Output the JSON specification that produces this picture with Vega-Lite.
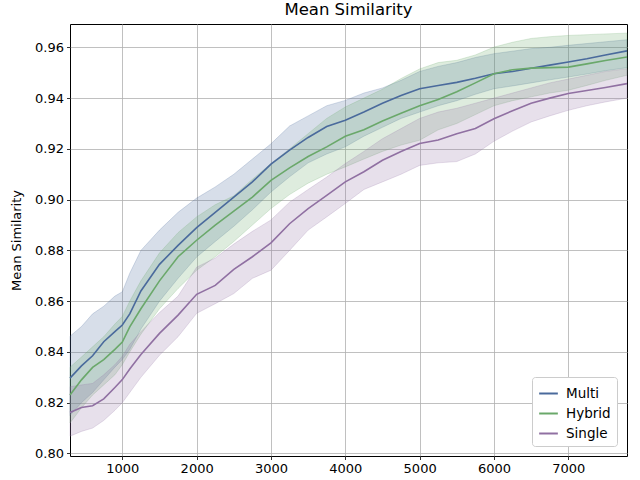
{
  "$schema": "https://vega.github.io/schema/vega-lite/v6.json",
  "width": 557,
  "height": 432,
  "autosize": {"type": "none"},
  "padding": {"left": 70, "top": 24, "right": 13, "bottom": 24},
  "background": "white",
  "title": {"text": "Mean Similarity", "fontSize": 16.5, "font": "DejaVu Sans", "fontWeight": "normal", "color": "black", "offset": 6, "anchor": "middle"},
  "config": {
    "view": {"stroke": "black", "strokeWidth": 1},
    "font": "DejaVu Sans",
    "axis": {"domain": false, "grid": true, "gridColor": "#b0b0b0", "gridWidth": 0.8, "tickColor": "black", "tickSize": 3.5, "tickWidth": 0.8, "labelFont": "DejaVu Sans", "labelFontSize": 13, "labelColor": "black", "labelPadding": 3, "titleFont": "DejaVu Sans", "titleFontSize": 13, "titleFontWeight": "normal", "titleColor": "black"},
    "legend": {"labelFont": "DejaVu Sans", "labelFontSize": 13.5, "labelColor": "black"}
  },
  "data": {"values": [
    {"step":296,"model":"Multi","mean":0.8297,"lo":0.8150,"hi":0.8462},
    {"step":450,"model":"Multi","mean":0.8345,"lo":0.8200,"hi":0.8500},
    {"step":600,"model":"Multi","mean":0.8385,"lo":0.8240,"hi":0.8550},
    {"step":750,"model":"Multi","mean":0.8440,"lo":0.8290,"hi":0.8580},
    {"step":900,"model":"Multi","mean":0.8480,"lo":0.8340,"hi":0.8620},
    {"step":1000,"model":"Multi","mean":0.8506,"lo":0.8370,"hi":0.8637},
    {"step":1100,"model":"Multi","mean":0.8550,"lo":0.8410,"hi":0.8710},
    {"step":1250,"model":"Multi","mean":0.8640,"lo":0.8490,"hi":0.8800},
    {"step":1500,"model":"Multi","mean":0.8745,"lo":0.8600,"hi":0.8880},
    {"step":1750,"model":"Multi","mean":0.8820,"lo":0.8690,"hi":0.8950},
    {"step":2000,"model":"Multi","mean":0.8890,"lo":0.8774,"hi":0.9006},
    {"step":2250,"model":"Multi","mean":0.8950,"lo":0.8835,"hi":0.9050},
    {"step":2500,"model":"Multi","mean":0.9010,"lo":0.8895,"hi":0.9100},
    {"step":2750,"model":"Multi","mean":0.9070,"lo":0.8960,"hi":0.9160},
    {"step":3000,"model":"Multi","mean":0.9140,"lo":0.9030,"hi":0.9220},
    {"step":3250,"model":"Multi","mean":0.9195,"lo":0.9090,"hi":0.9290},
    {"step":3500,"model":"Multi","mean":0.9245,"lo":0.9145,"hi":0.9330},
    {"step":3750,"model":"Multi","mean":0.9288,"lo":0.9180,"hi":0.9370},
    {"step":4000,"model":"Multi","mean":0.9313,"lo":0.9208,"hi":0.9391},
    {"step":4250,"model":"Multi","mean":0.9345,"lo":0.9250,"hi":0.9420},
    {"step":4500,"model":"Multi","mean":0.9380,"lo":0.9285,"hi":0.9440},
    {"step":4750,"model":"Multi","mean":0.9410,"lo":0.9320,"hi":0.9470},
    {"step":5000,"model":"Multi","mean":0.9437,"lo":0.9345,"hi":0.9505},
    {"step":5250,"model":"Multi","mean":0.9450,"lo":0.9370,"hi":0.9525},
    {"step":5500,"model":"Multi","mean":0.9462,"lo":0.9390,"hi":0.9540},
    {"step":5750,"model":"Multi","mean":0.9478,"lo":0.9415,"hi":0.9560},
    {"step":6000,"model":"Multi","mean":0.9496,"lo":0.9437,"hi":0.9575},
    {"step":6250,"model":"Multi","mean":0.9505,"lo":0.9448,"hi":0.9585},
    {"step":6500,"model":"Multi","mean":0.9518,"lo":0.9460,"hi":0.9595},
    {"step":6750,"model":"Multi","mean":0.9530,"lo":0.9472,"hi":0.9600},
    {"step":7000,"model":"Multi","mean":0.9542,"lo":0.9483,"hi":0.9608},
    {"step":7250,"model":"Multi","mean":0.9555,"lo":0.9495,"hi":0.9615},
    {"step":7500,"model":"Multi","mean":0.9570,"lo":0.9508,"hi":0.9622},
    {"step":7790,"model":"Multi","mean":0.9586,"lo":0.9520,"hi":0.9630},
    {"step":296,"model":"Hybrid","mean":0.8230,"lo":0.8120,"hi":0.8340},
    {"step":450,"model":"Hybrid","mean":0.8290,"lo":0.8180,"hi":0.8380},
    {"step":600,"model":"Hybrid","mean":0.8339,"lo":0.8230,"hi":0.8420},
    {"step":750,"model":"Hybrid","mean":0.8370,"lo":0.8270,"hi":0.8460},
    {"step":900,"model":"Hybrid","mean":0.8410,"lo":0.8310,"hi":0.8510},
    {"step":1000,"model":"Hybrid","mean":0.8439,"lo":0.8350,"hi":0.8540},
    {"step":1100,"model":"Hybrid","mean":0.8499,"lo":0.8400,"hi":0.8600},
    {"step":1250,"model":"Hybrid","mean":0.8570,"lo":0.8470,"hi":0.8680},
    {"step":1500,"model":"Hybrid","mean":0.8680,"lo":0.8570,"hi":0.8790},
    {"step":1750,"model":"Hybrid","mean":0.8775,"lo":0.8650,"hi":0.8870},
    {"step":2000,"model":"Hybrid","mean":0.8840,"lo":0.8722,"hi":0.8932},
    {"step":2250,"model":"Hybrid","mean":0.8900,"lo":0.8775,"hi":0.8980},
    {"step":2500,"model":"Hybrid","mean":0.8955,"lo":0.8835,"hi":0.9015},
    {"step":2750,"model":"Hybrid","mean":0.9010,"lo":0.8900,"hi":0.9080},
    {"step":3000,"model":"Hybrid","mean":0.9076,"lo":0.8965,"hi":0.9142},
    {"step":3250,"model":"Hybrid","mean":0.9125,"lo":0.9020,"hi":0.9200},
    {"step":3500,"model":"Hybrid","mean":0.9170,"lo":0.9065,"hi":0.9260},
    {"step":3750,"model":"Hybrid","mean":0.9208,"lo":0.9100,"hi":0.9320},
    {"step":4000,"model":"Hybrid","mean":0.9250,"lo":0.9129,"hi":0.9365},
    {"step":4250,"model":"Hybrid","mean":0.9275,"lo":0.9160,"hi":0.9400},
    {"step":4500,"model":"Hybrid","mean":0.9310,"lo":0.9190,"hi":0.9435},
    {"step":4750,"model":"Hybrid","mean":0.9340,"lo":0.9215,"hi":0.9477},
    {"step":5000,"model":"Hybrid","mean":0.9370,"lo":0.9234,"hi":0.9515},
    {"step":5250,"model":"Hybrid","mean":0.9395,"lo":0.9275,"hi":0.9540},
    {"step":5500,"model":"Hybrid","mean":0.9425,"lo":0.9300,"hi":0.9549},
    {"step":5750,"model":"Hybrid","mean":0.9460,"lo":0.9335,"hi":0.9570},
    {"step":6000,"model":"Hybrid","mean":0.9496,"lo":0.9370,"hi":0.9601},
    {"step":6250,"model":"Hybrid","mean":0.9512,"lo":0.9390,"hi":0.9620},
    {"step":6500,"model":"Hybrid","mean":0.9518,"lo":0.9405,"hi":0.9635},
    {"step":6750,"model":"Hybrid","mean":0.9520,"lo":0.9420,"hi":0.9642},
    {"step":7000,"model":"Hybrid","mean":0.9522,"lo":0.9431,"hi":0.9647},
    {"step":7250,"model":"Hybrid","mean":0.9535,"lo":0.9450,"hi":0.9650},
    {"step":7500,"model":"Hybrid","mean":0.9548,"lo":0.9470,"hi":0.9653},
    {"step":7790,"model":"Hybrid","mean":0.9562,"lo":0.9490,"hi":0.9656},
    {"step":296,"model":"Single","mean":0.8161,"lo":0.8068,"hi":0.8263},
    {"step":450,"model":"Single","mean":0.8181,"lo":0.8087,"hi":0.8270},
    {"step":600,"model":"Single","mean":0.8188,"lo":0.8100,"hi":0.8276},
    {"step":750,"model":"Single","mean":0.8215,"lo":0.8130,"hi":0.8310},
    {"step":900,"model":"Single","mean":0.8260,"lo":0.8170,"hi":0.8350},
    {"step":1000,"model":"Single","mean":0.8291,"lo":0.8200,"hi":0.8383},
    {"step":1100,"model":"Single","mean":0.8333,"lo":0.8240,"hi":0.8430},
    {"step":1250,"model":"Single","mean":0.8390,"lo":0.8300,"hi":0.8480},
    {"step":1500,"model":"Single","mean":0.8473,"lo":0.8387,"hi":0.8555},
    {"step":1750,"model":"Single","mean":0.8545,"lo":0.8460,"hi":0.8620},
    {"step":2000,"model":"Single","mean":0.8627,"lo":0.8552,"hi":0.8734},
    {"step":2250,"model":"Single","mean":0.8662,"lo":0.8590,"hi":0.8770},
    {"step":2500,"model":"Single","mean":0.8725,"lo":0.8630,"hi":0.8825},
    {"step":2750,"model":"Single","mean":0.8775,"lo":0.8690,"hi":0.8875},
    {"step":3000,"model":"Single","mean":0.8830,"lo":0.8722,"hi":0.8920},
    {"step":3250,"model":"Single","mean":0.8905,"lo":0.8800,"hi":0.8990},
    {"step":3500,"model":"Single","mean":0.8965,"lo":0.8880,"hi":0.9040},
    {"step":3750,"model":"Single","mean":0.9017,"lo":0.8932,"hi":0.9089},
    {"step":4000,"model":"Single","mean":0.9070,"lo":0.8985,"hi":0.9142},
    {"step":4250,"model":"Single","mean":0.9110,"lo":0.9040,"hi":0.9190},
    {"step":4500,"model":"Single","mean":0.9155,"lo":0.9070,"hi":0.9240},
    {"step":4750,"model":"Single","mean":0.9190,"lo":0.9100,"hi":0.9280},
    {"step":5000,"model":"Single","mean":0.9221,"lo":0.9135,"hi":0.9320},
    {"step":5250,"model":"Single","mean":0.9235,"lo":0.9145,"hi":0.9345},
    {"step":5500,"model":"Single","mean":0.9260,"lo":0.9150,"hi":0.9360},
    {"step":5750,"model":"Single","mean":0.9280,"lo":0.9180,"hi":0.9380},
    {"step":6000,"model":"Single","mean":0.9319,"lo":0.9230,"hi":0.9400},
    {"step":6250,"model":"Single","mean":0.9350,"lo":0.9270,"hi":0.9420},
    {"step":6500,"model":"Single","mean":0.9380,"lo":0.9306,"hi":0.9440},
    {"step":6750,"model":"Single","mean":0.9400,"lo":0.9330,"hi":0.9460},
    {"step":7000,"model":"Single","mean":0.9418,"lo":0.9352,"hi":0.9475},
    {"step":7250,"model":"Single","mean":0.9430,"lo":0.9370,"hi":0.9490},
    {"step":7500,"model":"Single","mean":0.9442,"lo":0.9385,"hi":0.9505},
    {"step":7790,"model":"Single","mean":0.9457,"lo":0.9400,"hi":0.9516}
  ]},
  "encoding": {
    "x": {"field": "step", "type": "quantitative", "scale": {"domain": [296, 7790], "nice": false, "zero": false}, "axis": {"values": [1000, 2000, 3000, 4000, 5000, 6000, 7000], "format": "d", "title": null}},
    "color": {"field": "model", "type": "nominal", "scale": {"domain": ["Multi", "Hybrid", "Single"], "range": ["#4a6a9c", "#6aa86a", "#9070a2"]}, "legend": {"title": null, "orient": "bottom-right", "offset": 10, "symbolType": "stroke", "symbolStrokeWidth": 2, "symbolSize": 350, "symbolOpacity": 1, "symbolFillColor": "transparent", "fillColor": "white", "strokeColor": "#cccccc", "cornerRadius": 3, "padding": 6, "rowPadding": 3, "labelOffset": 7}}
  },
  "layer": [
    {
      "mark": {"type": "area", "fillOpacity": 0.22, "opacity": 1, "strokeOpacity": 0.22, "strokeWidth": 1, "interpolate": "linear"},
      "encoding": {
        "y": {"field": "lo", "type": "quantitative", "stack": null, "scale": {"domain": [0.799, 0.9692], "nice": false, "zero": false}, "axis": {"values": [0.80, 0.82, 0.84, 0.86, 0.88, 0.90, 0.92, 0.94, 0.96], "format": ".2f", "title": "Mean Similarity", "titlePadding": 11}},
        "y2": {"field": "hi"},
        "stroke": {"field": "model", "type": "nominal", "scale": {"domain": ["Multi", "Hybrid", "Single"], "range": ["#4a6a9c", "#6aa86a", "#9070a2"]}, "legend": null}
      }
    },
    {
      "mark": {"type": "line", "strokeWidth": 1.6},
      "encoding": {
        "y": {"field": "mean", "type": "quantitative"}
      }
    }
  ]
}
